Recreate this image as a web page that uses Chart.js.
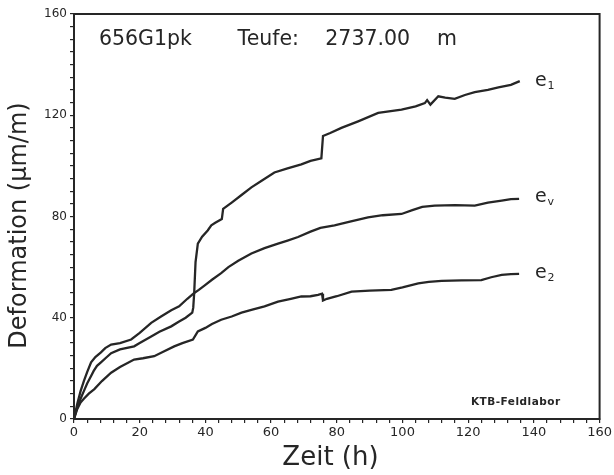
<!DOCTYPE html>
<html>
<head>
<meta charset="utf-8">
<script src="https://cdn.jsdelivr.net/npm/chart.js@4"></script>
<style>
  html, body { margin: 0; padding: 0; background: #ffffff; }
  #wrap { width: 614px; height: 475px; }
</style>
</head>
<body>
<div id="wrap"><canvas id="c" width="614" height="475"></canvas></div>
<script>
// ---- data (time in h, deformation in µm/m) ----
const e1Time = [0,0.5,1.1,2,3,4,5.2,6,7,8.2,10,11.3,14,18.3,20,23.5,26,29.6,32,34,36,36.3,36.6,37,37.7,39,40.7,41.8,43,45,45.4,48,51,54,57,61,65,69.2,72,75.3,75.8,78,81.4,86.5,92.6,99.7,104,106.8,107.5,108.5,110.9,113,115.9,119,122,126,129.2,133,135.7];
const e1Vals = [0,2.5,5,8,11,14,17,19,21,22.4,24.5,26,27.5,28.7,30,32.6,34.5,36.6,38.5,40,42,44,50,62,69.3,72,74.5,76.5,77.5,79,83,85.5,88.5,91.5,94,97.4,99,100.6,102,103,111.8,113,115,117.6,120.9,122.2,123.5,124.8,126,124.2,127.5,127,126.5,128,129.1,130,131,132,133.5];

const evTime = [0,0.5,1,2,3,4,5.2,6.5,8.2,9.5,11.3,14,17.4,20,23.5,26.5,29.6,32,34.5,36.6,38,40,42,44.8,47,50,54,58,62.1,65,68.2,72,75,79.3,84,89.5,94,99.7,103,106,109.8,116,122,126,130.2,133,135.5];
const evVals = [0,3,6,11,15,18.5,22.4,24.5,26.3,28,29.4,30,31.4,34,38,40.5,43,44.5,47.5,49.8,51,53,55,57.6,60,62.5,65.4,67.5,69.3,70.5,71.9,74,75.5,76.5,78,79.7,80.5,81,82.5,83.8,84.3,84.5,84.3,85.5,86.3,86.9,87];

const e2Time = [0,0.5,1,2,3,4.5,6.2,8.5,11.3,14,18.3,21,24.4,27,30.5,33,36.2,37.7,40,42,44.8,48,51,54,58,62.1,66,69.2,72,74.3,75.5,75.8,77,80,84.5,90,96.6,100,104.8,108,111.9,118,124,127,130.2,133,135.5];
const e2Vals = [0,2,4,6.5,8,10,11.8,15,18.3,20.5,23.5,24,24.8,26.5,28.7,30,31.4,34.6,36,37.5,39.2,40.5,42,43.1,44.5,46.4,47.5,48.4,48.5,49,49.5,46.8,47.5,48.5,50.3,50.7,51,52,53.6,54.2,54.6,54.8,54.9,56,56.9,57.2,57.3];

const seriesNames = ['e1', 'ev', 'e2'];
const curveLabels = [ {base:'e', sub:'1', x:140.3, y:133.5}, {base:'e', sub:'v', x:140.3, y:87.7}, {base:'e', sub:'2', x:140.3, y:57.8} ];

const xTicksMajor = [0,20,40,60,80,100,120,140,160];
const yTicksMajor = [0,40,80,120,160];

const titleParts = [ {text:'656G1pk', x:7.6}, {text:'Teufe:', x:49.8}, {text:'2737.00', x:76.5}, {text:'m', x:110.5} ];
const titleY = 147.8;
const stampText = 'KTB-Feldlabor';
const stampPos = {x:134.5, y:6.8};

const xAxisTitle = 'Zeit (h)';
const yAxisTitle = 'Deformation (\u03bcm/m)';

// ---- build chart ----
const ink = '#262626';
const FONT = "'DejaVu Sans', sans-serif";

function pts(t, v) { return t.map((x, i) => ({x: x, y: v[i]})); }

const datasets = [
  {label: seriesNames[0], data: pts(e1Time, e1Vals)},
  {label: seriesNames[1], data: pts(evTime, evVals)},
  {label: seriesNames[2], data: pts(e2Time, e2Vals)}
].map(d => Object.assign(d, {
  showLine: true, borderColor: ink, borderWidth: 2.3, pointRadius: 0, tension: 0, fill: false
}));

const decor = {
  id: 'decor',
  afterDraw(chart) {
    const ctx = chart.ctx, a = chart.chartArea;
    const xs = chart.scales.x, ys = chart.scales.y;
    ctx.save();
    // frame
    ctx.strokeStyle = ink; ctx.lineWidth = 2;
    ctx.strokeRect(a.left, a.top, a.right - a.left, a.bottom - a.top);
    ctx.fillStyle = ink;
    // axis titles
    ctx.textAlign = 'center';
    ctx.textBaseline = 'alphabetic';
    ctx.font = '26px ' + FONT;
    ctx.fillText(xAxisTitle, a.left + (a.right - a.left) * 0.488, a.bottom + 46);
    ctx.save();
    ctx.translate(20, (a.top + a.bottom) / 2 + 9);
    ctx.rotate(-Math.PI / 2);
    ctx.textBaseline = 'middle';
    ctx.font = '24px ' + FONT;
    ctx.fillText(yAxisTitle, 0, 0);
    ctx.restore();
    // title
    ctx.textBaseline = 'alphabetic';
    ctx.textAlign = 'left';
    ctx.font = '20.5px ' + FONT;
    titleParts.forEach(p => ctx.fillText(p.text, xs.getPixelForValue(p.x), ys.getPixelForValue(titleY)));
    // curve labels
    curveLabels.forEach(l => {
      const px = xs.getPixelForValue(l.x), py = ys.getPixelForValue(l.y);
      ctx.font = '19px ' + FONT;
      ctx.textBaseline = 'middle';
      ctx.fillText(l.base, px, py);
      const w = ctx.measureText(l.base).width;
      ctx.font = '11px ' + FONT;
      ctx.fillText(l.sub, px + w + 1, py + 5);
    });
    // stamp
    ctx.font = 'bold 10.5px ' + FONT;
    ctx.textAlign = 'center';
    ctx.textBaseline = 'middle';
    if ('letterSpacing' in ctx) ctx.letterSpacing = '0.5px';
    ctx.fillText(stampText, xs.getPixelForValue(stampPos.x), ys.getPixelForValue(stampPos.y));
    ctx.restore();
  }
};

new Chart(document.getElementById('c'), {
  type: 'scatter',
  data: {datasets},
  options: {
    responsive: false,
    animation: false,
    events: [],
    layout: {padding: {top: 14, right: 14, left: 0, bottom: 0}},
    plugins: {legend: {display: false}, tooltip: {enabled: false}},
    scales: {
      x: {
        type: 'linear', min: 0, max: 160,
        afterFit(s) { s.height = 56; },
        border: {display: true, color: ink, width: 2},
        grid: {display: true, drawOnChartArea: false, drawTicks: true, tickLength: 4, color: ink, lineWidth: 1.2},
        ticks: {
          stepSize: 4, autoSkip: false, maxTicksLimit: 100, maxRotation: 0, padding: 2,
          color: ink, font: {family: FONT, size: 13},
          callback: v => xTicksMajor.includes(v) ? String(v) : ''
        },
        title: {display: false, text: xAxisTitle}
      },
      y: {
        type: 'linear', min: 0, max: 160,
        afterFit(s) { s.width = 74; },
        border: {display: true, color: ink, width: 2},
        grid: {display: true, drawOnChartArea: false, drawTicks: true, tickLength: 4, color: ink, lineWidth: 1.2},
        ticks: {
          stepSize: 5, autoSkip: false, maxTicksLimit: 100, padding: 3,
          color: ink, font: {family: FONT, size: 12},
          callback: v => yTicksMajor.includes(v) ? String(v) : ''
        },
        title: {display: false, text: yAxisTitle}
      }
    }
  },
  plugins: [decor]
});
</script>
</body>
</html>
